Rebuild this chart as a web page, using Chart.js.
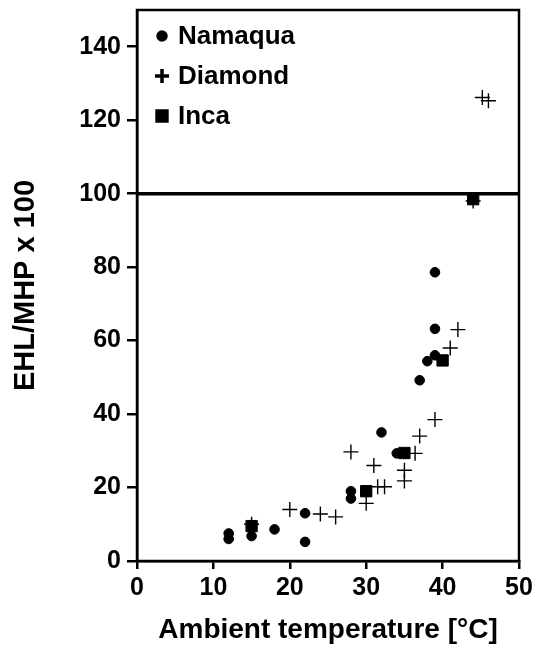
<!DOCTYPE html>
<html>
<head>
<meta charset="utf-8">
<script src="https://cdn.jsdelivr.net/npm/chart.js@4/dist/chart.umd.min.js"></script>
<style>
  html, body { margin: 0; padding: 0; background: #fff; }
  #wrap { width: 546px; height: 650px; }
</style>
</head>
<body>
<div id="wrap"><canvas id="chart" width="546" height="650"></canvas></div>
<script>
// data
const seriesNames = ['Namaqua', 'Diamond', 'Inca'];

const namaquaTemp = [12, 12, 15, 15, 18, 22, 22, 28, 28, 32, 34, 37, 38, 39, 39, 39];
const namaquaEhl  = [6, 7.5, 6.8, 9, 8.6, 13, 5.2, 17, 19, 35, 29.3, 49.2, 54.4, 56, 63.2, 78.6];

const diamondTemp = [15, 20, 24, 26, 28, 30, 31, 31.5, 32.4, 35, 35, 36.4, 37, 39, 41, 42, 44, 45.2, 46];
const diamondEhl  = [10, 14, 12.8, 12, 29.7, 15.7, 26, 20.2, 20.2, 24.7, 21.8, 29.3, 34, 38.5, 58, 63, 98, 126.2, 125.3];

const incaTemp = [15, 30, 35, 40, 44];
const incaEhl  = [9.5, 19, 29.4, 54.6, 98.5];

const xTicks = [0, 10, 20, 30, 40, 50];
const yTicks = [0, 20, 40, 60, 80, 100, 120, 140];
const refLine = 100;

const toPoints = (xs, ys) => xs.map((x, i) => ({ x: x, y: ys[i] }));

const FONT = '"Liberation Sans", Arial, Helvetica, sans-serif';

// legend marker sizes are a bit smaller than the plotted ones
const legendRadius = { circle: 4, cross: 7, rect: 7 };

// frame around the plot + thick line at 100 + legend inside the plot
const framePlugin = {
    id: 'frame',
    afterDatasetsDraw(chart) {
        const { ctx, chartArea: a, scales } = chart;
        ctx.save();
        ctx.strokeStyle = '#000';
        ctx.lineWidth = 2.5;
        ctx.strokeRect(a.left, a.top, a.right - a.left, a.bottom - a.top);

        const y = scales.y.getPixelForValue(refLine);
        ctx.lineWidth = 3.5;
        ctx.beginPath();
        ctx.moveTo(a.left, y);
        ctx.lineTo(a.right, y);
        ctx.stroke();

        // legend
        ctx.font = 'bold 26px ' + FONT;
        ctx.textBaseline = 'middle';
        chart.data.datasets.forEach((ds, i) => {
            const px = a.left + 25;
            const py = a.top + 26 + i * 40;
            ctx.fillStyle = '#000';
            ctx.strokeStyle = '#000';
            Chart.helpers.drawPoint(ctx, {
                pointStyle: ds.pointStyle,
                radius: legendRadius[ds.pointStyle],
                borderWidth: ds.pointStyle === 'cross' ? 1.2 : ds.borderWidth
            }, px, py);
            ctx.fillStyle = '#000';
            ctx.fillText(ds.label, a.left + 41, py + 1);
        });
        ctx.restore();
    }
};

new Chart(document.getElementById('chart'), {
    type: 'scatter',
    data: {
        datasets: [
            {
                label: seriesNames[0],
                data: toPoints(namaquaTemp, namaquaEhl),
                pointStyle: 'circle',
                pointRadius: 4.8,
                backgroundColor: '#000',
                borderColor: '#000',
                borderWidth: 1
            },
            {
                label: seriesNames[1],
                data: toPoints(diamondTemp, diamondEhl),
                pointStyle: 'cross',
                pointRadius: 7.5,
                backgroundColor: '#000',
                borderColor: '#000',
                borderWidth: 1.4
            },
            {
                label: seriesNames[2],
                data: toPoints(incaTemp, incaEhl),
                pointStyle: 'rect',
                pointRadius: 8,
                backgroundColor: '#000',
                borderColor: '#000',
                borderWidth: 1
            }
        ]
    },
    options: {
        responsive: false,
        animation: false,
        layout: { padding: { left: 0, right: 27, top: 10, bottom: 0 } },
        plugins: {
            legend: { display: false },
            tooltip: { enabled: false }
        },
        scales: {
            x: {
                type: 'linear',
                min: 0,
                max: 50,
                afterBuildTicks: (scale) => { scale.ticks = xTicks.map(v => ({ value: v })); },
                afterFit: (scale) => {
                    scale.height = 89;
                    scale.paddingLeft = 0;
                    scale.paddingRight = 0;
                },
                border: { color: '#000', width: 2.5 },
                grid: { drawOnChartArea: false, drawTicks: true, tickLength: 8, color: '#000', lineWidth: 2.5 },
                ticks: { color: '#000', padding: 4, font: { family: FONT, size: 25, weight: 'bold' } },
                title: {
                    display: true,
                    text: 'Ambient temperature [°C]',
                    color: '#000',
                    font: { family: FONT, size: 28, weight: 'bold' },
                    padding: { top: 0, bottom: 3 }
                }
            },
            y: {
                type: 'linear',
                min: 0,
                max: 150,
                afterBuildTicks: (scale) => { scale.ticks = yTicks.map(v => ({ value: v })); },
                afterFit: (scale) => {
                    scale.width = 137;
                    scale.paddingTop = 0;
                    scale.paddingBottom = 0;
                },
                border: { color: '#000', width: 2.5 },
                grid: { drawOnChartArea: false, drawTicks: true, tickLength: 10, color: '#000', lineWidth: 2.5 },
                ticks: { color: '#000', padding: 6, font: { family: FONT, size: 25, weight: 'bold' } },
                title: {
                    display: true,
                    text: 'EHL/MHP x 100',
                    color: '#000',
                    font: { family: FONT, size: 29, weight: 'bold' },
                    padding: { top: 9, bottom: 0 }
                }
            }
        }
    },
    plugins: [framePlugin]
});
</script>
</body>
</html>
